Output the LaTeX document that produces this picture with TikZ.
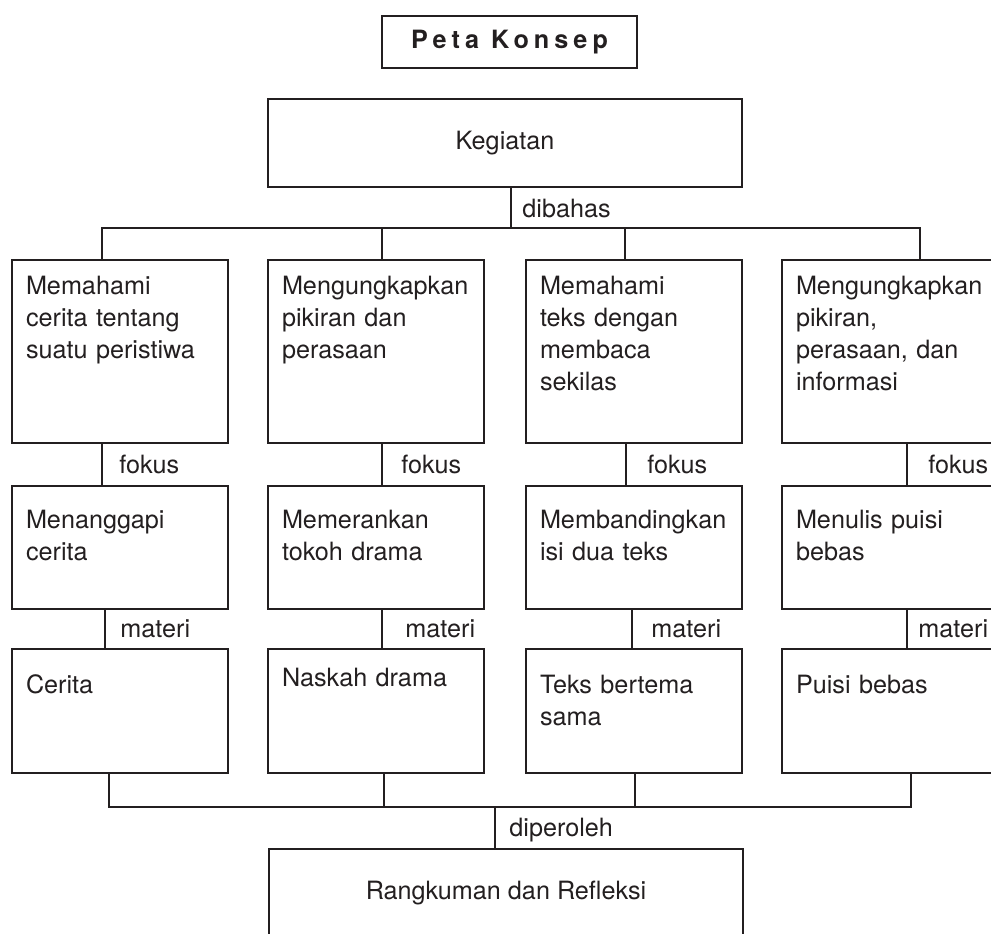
\documentclass[tikz,border=0pt]{standalone}
\usepackage{fontspec}
\setmainfont{TeX Gyre Heros}
\newfontfamily\judulfont[LetterSpace=20]{TeX Gyre Heros}
\hyphenpenalty=10000
\definecolor{tinta}{RGB}{35,31,32}
\tikzset{
	kotak/.style={draw, anchor=north west, text width=94pt, align=left, inner xsep=7pt, inner ysep=0pt, outer sep=0pt},
	baris1/.style={kotak, text height=17pt, text depth=74.5pt},
	baris2/.style={kotak, text height=21pt, text depth=40.5pt},
	baris3/.style={kotak, text height=22pt, text depth=40pt},
	pusat/.style={draw, anchor=north west, inner sep=0pt, outer sep=0pt, minimum width=237pt, minimum height=44pt},
	ket/.style={anchor=base west, inner sep=0pt}
}
\begin{document}
\begin{tikzpicture}[x=0.5pt, y=-0.5pt, color=tinta, line width=1.45pt, font=\fontsize{12.6}{16}\selectfont]
	\useasboundingbox (0,0) rectangle (991,933);
	\clip (0,0) rectangle (991,933);

	\node[draw, anchor=north west, inner sep=0pt, outer sep=0pt, minimum width=127.5pt, minimum height=26pt] (judul) at (382,16) {\judulfont\bfseries Peta Konsep};
	\node[pusat] (keg) at (268,99) {Kegiatan};

	% baris pertama
	\node[baris1] (a1) at (12,260) {Memahami\\cerita tentang\\suatu peristiwa};
	\node[baris1] (a2) at (268,260) {Mengungkapkan\\pikiran dan\\perasaan};
	\node[baris1] (a3) at (526,260) {Memahami\\teks dengan\\membaca\\sekilas};
	\node[baris1] (a4) at (782,260) {Mengungkapkan\\pikiran,\\perasaan, dan\\informasi};

	% baris kedua
	\node[baris2] (b1) at (12,486) {Menanggapi\\cerita};
	\node[baris2] (b2) at (268,486) {Memerankan\\tokoh drama};
	\node[baris2] (b3) at (526,486) {Membandingkan\\isi dua teks};
	\node[baris2] (b4) at (782,486) {Menulis puisi\\bebas};

	% baris ketiga
	\node[baris3] (c1) at (12,649) {Cerita};
	\node[kotak, text height=18.5pt, text depth=43.5pt] (c2) at (268,649) {Naskah drama};
	\node[baris3] (c3) at (526,649) {Teks bertema\\sama};
	\node[baris3] (c4) at (782,649) {Puisi bebas};

	\node[pusat] (rang) at (269,849) {Rangkuman dan Refleksi};

	% dibahas
	\coordinate (bagi) at (511,228);
	\draw ([xshift=3pt]keg.south) -- (bagi);
	\draw (bagi) -| ([xshift=-9pt]a1.north);
	\draw (bagi) -| ([xshift=3pt]a2.north);
	\draw (bagi) -| ([xshift=-4.5pt]a3.north);
	\draw (bagi) -| ([xshift=15pt]a4.north);
	\node[ket] (dibahas) at (521,217) {dibahas};

	% fokus
	\draw ([xshift=-9pt]a1.south) -- ([xshift=-9pt]b1.north);
	\draw ([xshift=3pt]a2.south) -- ([xshift=3pt]b2.north);
	\draw ([xshift=-4pt]a3.south) -- ([xshift=-4pt]b3.north);
	\draw ([xshift=8.5pt]a4.south) -- ([xshift=8.5pt]b4.north);
	\node[ket] (fokus1) at (118,473) {fokus};
	\node[ket] (fokus2) at (400,473) {fokus};
	\node[ket] (fokus3) at (646,473) {fokus};
	\node[ket] (fokus4) at (927,473) {fokus};

	% materi
	\draw ([xshift=-7.5pt]b1.south) -- ([xshift=-7.5pt]c1.north);
	\draw ([xshift=3pt]b2.south) -- ([xshift=3pt]c2.north);
	\draw ([xshift=-1pt]b3.south) -- ([xshift=-1pt]c3.north);
	\draw ([xshift=8.5pt]b4.south) -- ([xshift=8.5pt]c4.north);
	\node[ket] (materi1) at (119,637) {materi};
	\node[ket] (materi2) at (404,637) {materi};
	\node[ket] (materi3) at (650,637) {materi};
	\node[ket] (materi4) at (917,637) {materi};

	% diperoleh
	\coordinate (kumpul) at (495,807);
	\draw ([xshift=-5.5pt]c1.south) |- (kumpul);
	\draw ([xshift=4pt]c2.south) |- (kumpul);
	\draw ([xshift=0.5pt]c3.south) |- (kumpul);
	\draw ([xshift=10.5pt]c4.south) |- (kumpul);
	\draw (kumpul) -- ([xshift=-5.5pt]rang.north);
	\node[ket] (diperoleh) at (508,836) {diperoleh};
\end{tikzpicture}
\end{document}
